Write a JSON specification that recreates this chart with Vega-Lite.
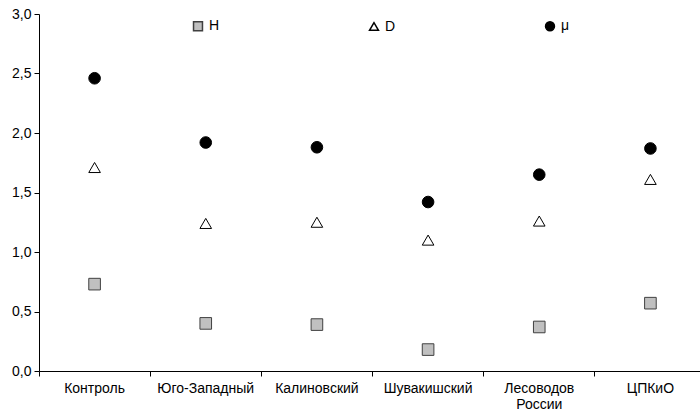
{
  "$schema": "https://vega.github.io/schema/vega-lite/v6.json",
  "autosize": "none",
  "width": 667,
  "height": 357,
  "padding": {"left": 39, "top": 14, "right": 0, "bottom": 49},
  "background": "white",
  "config": {
    "view": {"stroke": null},
    "font": "Liberation Sans",
    "axis": {"labelFont": "Liberation Sans", "labelFontSize": 14, "labelColor": "black", "domainColor": "black", "tickColor": "black", "grid": false, "title": null}
  },
  "data": {
    "values": [
      {"cat": "Контроль", "series": "H", "value": 0.73},
      {"cat": "Контроль", "series": "D", "value": 1.71},
      {"cat": "Контроль", "series": "μ", "value": 2.46},
      {"cat": "Юго-Западный", "series": "H", "value": 0.40},
      {"cat": "Юго-Западный", "series": "D", "value": 1.24},
      {"cat": "Юго-Западный", "series": "μ", "value": 1.92},
      {"cat": "Калиновский", "series": "H", "value": 0.39},
      {"cat": "Калиновский", "series": "D", "value": 1.25},
      {"cat": "Калиновский", "series": "μ", "value": 1.88},
      {"cat": "Шувакишский", "series": "H", "value": 0.18},
      {"cat": "Шувакишский", "series": "D", "value": 1.10},
      {"cat": "Шувакишский", "series": "μ", "value": 1.42},
      {"cat": "Лесоводов России", "series": "H", "value": 0.37},
      {"cat": "Лесоводов России", "series": "D", "value": 1.26},
      {"cat": "Лесоводов России", "series": "μ", "value": 1.65},
      {"cat": "ЦПКиО", "series": "H", "value": 0.57},
      {"cat": "ЦПКиО", "series": "D", "value": 1.61},
      {"cat": "ЦПКиО", "series": "μ", "value": 1.87}
    ]
  },
  "mark": {"type": "point", "filled": false, "size": 135, "strokeWidth": 1, "opacity": 1},
  "encoding": {
    "x": {
      "field": "cat", "type": "nominal", "sort": null,
      "scale": {"type": "band", "paddingInner": 0, "paddingOuter": 0},
      "axis": {
        "labelAngle": 0, "bandPosition": 0, "labelOffset": 0, "tickSize": 5, "labelPadding": 5,
        "labelFontSize": 14,
        "labelExpr": "datum.label == 'Лесоводов России' ? ['Лесоводов', 'России'] : datum.label",
        "labelLimit": 200
      }
    },
    "y": {
      "field": "value", "type": "quantitative",
      "scale": {"domain": [0, 3], "nice": false},
      "axis": {"values": [0, 0.5, 1, 1.5, 2, 2.5, 3], "tickSize": 5, "labelPadding": 3, "labelFontSize": 14,
        "labelExpr": "replace(format(datum.value, '.1f'), '.', ',')"}
    },
    "shape": {
      "field": "series", "type": "nominal",
      "scale": {"domain": ["H", "D", "μ"], "range": ["square", "triangle-up", "circle"]},
      "legend": {
        "title": null, "orient": "none", "legendX": 152, "legendY": 5, "direction": "horizontal", "columns": 3,
        "gridAlign": "all", "columnPadding": 146, "symbolSize": 80, "labelFontSize": 14, "labelFont": "Liberation Sans", "labelColor": "black", "labelOffset": 4
      }
    },
    "fill": {
      "field": "series", "type": "nominal",
      "scale": {"domain": ["H", "D", "μ"], "range": ["#c0c0c0", "white", "black"]}
    },
    "stroke": {
      "field": "series", "type": "nominal",
      "scale": {"domain": ["H", "D", "μ"], "range": ["#404040", "black", "black"]}
    }
  }
}
